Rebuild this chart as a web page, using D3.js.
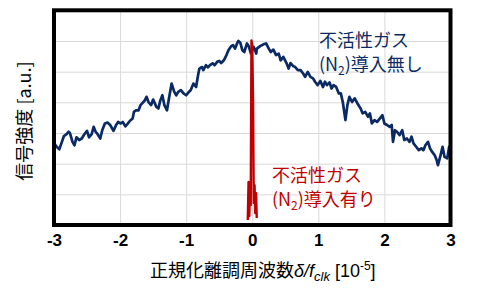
<!DOCTYPE html>
<html><head><meta charset="utf-8">
<script src="https://cdn.jsdelivr.net/npm/d3@7"></script>
<style>body{margin:0;background:#fff}svg{display:block}</style>
</head><body>
<svg id="c" width="477" height="288"></svg>
<script>
const xTicks=[-3,-2,-1,0,1,2,3];
const yGrid=[0,1,2,3,4,5,6,7];
const blueX=[-3.00,-2.96,-2.92,-2.88,-2.85,-2.81,-2.78,-2.76,-2.72,-2.69,-2.66,-2.62,-2.58,-2.54,-2.50,-2.47,-2.43,-2.40,-2.37,-2.34,-2.30,-2.27,-2.23,-2.19,-2.15,-2.10,-2.06,-2.03,-1.99,-1.96,-1.92,-1.89,-1.85,-1.81,-1.79,-1.76,-1.72,-1.69,-1.66,-1.63,-1.60,-1.57,-1.53,-1.50,-1.45,-1.42,-1.39,-1.36,-1.33,-1.29,-1.26,-1.22,-1.18,-1.15,-1.12,-1.08,-1.04,-1.00,-0.97,-0.93,-0.89,-0.85,-0.82,-0.80,-0.76,-0.74,-0.70,-0.67,-0.64,-0.60,-0.57,-0.53,-0.50,-0.47,-0.43,-0.39,-0.36,-0.32,-0.29,-0.26,-0.23,-0.21,-0.18,-0.15,-0.12,-0.08,-0.05,-0.02,0.02,0.06,0.07,0.12,0.17,0.21,0.25,0.28,0.32,0.36,0.40,0.43,0.47,0.52,0.55,0.58,0.62,0.65,0.69,0.73,0.77,0.80,0.84,0.88,0.92,0.95,0.99,1.03,1.07,1.10,1.13,1.17,1.20,1.23,1.27,1.31,1.34,1.37,1.41,1.44,1.47,1.51,1.55,1.59,1.64,1.67,1.71,1.75,1.78,1.81,1.85,1.89,1.93,1.97,2.00,2.04,2.08,2.11,2.13,2.16,2.19,2.23,2.27,2.30,2.34,2.38,2.41,2.44,2.48,2.52,2.56,2.59,2.62,2.66,2.69,2.72,2.76,2.79,2.81,2.85,2.88,2.91,2.95,2.98,3.00];
const blueY=[2.67,2.55,2.47,2.71,2.90,2.96,3.04,3.00,2.71,2.60,2.86,2.77,2.82,2.96,3.07,2.86,2.96,3.20,3.04,2.96,2.82,3.09,3.31,3.34,3.26,3.07,3.26,3.36,3.31,3.36,3.22,3.29,3.40,3.47,3.69,3.74,3.74,3.91,3.98,4.05,4.18,4.01,3.91,4.09,3.85,3.80,4.07,4.23,3.91,3.74,4.13,4.61,4.34,4.23,4.34,4.40,4.29,4.23,4.31,4.40,4.61,4.50,4.88,5.10,5.15,5.05,5.21,5.14,5.21,5.27,5.21,5.32,5.35,5.28,5.37,5.54,5.70,5.83,5.86,5.75,5.92,6.00,5.94,5.70,5.64,5.92,5.81,5.59,5.81,5.59,5.75,5.83,5.89,5.92,5.75,5.64,5.72,5.54,5.59,5.37,5.48,5.27,5.10,5.28,5.18,5.15,5.05,5.05,4.94,4.83,4.99,4.83,4.78,4.67,4.56,4.70,4.50,4.67,4.56,4.65,4.45,4.56,4.50,4.29,4.29,4.01,3.42,3.91,4.18,4.01,4.13,3.97,3.80,3.64,3.69,3.53,3.64,3.31,3.42,3.36,3.47,3.58,3.31,3.26,3.20,3.26,2.71,3.09,3.04,2.93,3.09,2.77,2.82,2.71,2.88,2.66,2.55,2.44,2.50,2.44,2.60,2.71,2.50,2.39,2.28,2.12,1.95,2.28,2.55,2.22,2.17,2.55,2.60];
const redX=[-0.068,-0.056,-0.045,-0.033,-0.023,-0.012,0.0,0.012,0.023,0.035,0.045,0.058,0.068];
const redY=[0.16,1.40,0.29,1.30,0.65,6.02,5.86,4.07,0.72,1.30,0.39,1.04,0.23];
const labelBlue=["不活性ガス","導入無し"];
const labelRed=["不活性ガス","導入有り"];

const svg=d3.select("#c");
const L=54,R=450.5,T=10.3,B=225;
const x=d3.scaleLinear().domain([-3,3]).range([L,R]);
const y=d3.scaleLinear().domain([0,7]).range([B,T]);

// grid
const gx=svg.append("g").attr("transform",`translate(0,${B})`)
  .call(d3.axisBottom(x).tickValues(xTicks).tickSize(-(B-T)).tickFormat(""));
const gy=svg.append("g").attr("transform",`translate(${L},0)`)
  .call(d3.axisLeft(y).tickValues(yGrid).tickSize(-(R-L)).tickFormat(""));
[gx,gy].forEach(g=>{g.select(".domain").remove();g.selectAll("line").attr("stroke","#d9d9d9").attr("stroke-width",1);});

// tick labels
const gl=svg.append("g").attr("transform",`translate(0,${B})`)
  .call(d3.axisBottom(x).tickValues(xTicks).tickSize(0).tickPadding(9).tickFormat(d=>String(d)));
gl.select(".domain").remove();
gl.selectAll("text").attr("font-family","Liberation Sans, Arial, sans-serif").attr("font-weight","bold").attr("font-size",17).attr("fill","#000");

const line=d3.line().x(d=>x(d[0])).y(d=>y(d[1]));
svg.append("path").datum(blueX.map((v,i)=>[v,blueY[i]]))
  .attr("d",line).attr("fill","none").attr("stroke","#0b2a63").attr("stroke-width",2.7).attr("stroke-linejoin","round");
svg.append("path").datum(redX.map((v,i)=>[v,redY[i]]))
  .attr("d",line).attr("fill","none").attr("stroke","#c00000").attr("stroke-width",2.4).attr("stroke-linejoin","round");

// frame
svg.append("rect").attr("x",L).attr("y",T).attr("width",R-L).attr("height",B-T)
  .attr("fill","none").attr("stroke","#000").attr("stroke-width",4);

const jp="Noto Sans CJK JP, sans-serif";
function label(xp,yp,lines,color){
  const g=svg.append("g").attr("fill",color).attr("font-family",jp).attr("font-size",18);
  g.append("text").attr("x",xp).attr("y",yp).text(lines[0]);
  const t=g.append("text").attr("x",xp).attr("y",yp+24);
  t.append("tspan").text("(N");
  t.append("tspan").attr("font-size",12).attr("dy",4).text("2");
  t.append("tspan").attr("dy",-4).text(")"+lines[1]);
}
label(319,47,labelBlue,"#0b2a63");
label(272,182,labelRed,"#c00000");

// x title
const xt=svg.append("text").attr("x",150).attr("y",277).attr("font-family",jp).attr("font-size",18).attr("fill","#000");
xt.append("tspan").text("正規化離調周波数");
xt.append("tspan").attr("font-style","italic").attr("font-family","Liberation Sans, Arial, sans-serif").text("δ/f");
xt.append("tspan").attr("font-style","italic").attr("font-family","Liberation Sans, Arial, sans-serif").attr("font-size",13).attr("dy",4).text("clk");
xt.append("tspan").attr("dy",-4).attr("font-family","Liberation Sans, Arial, sans-serif").text(" [10");
xt.append("tspan").attr("dy",-7).attr("font-size",12).attr("font-family","Liberation Sans, Arial, sans-serif").text("-5");
xt.append("tspan").attr("dy",7).attr("font-family","Liberation Sans, Arial, sans-serif").text("]");

// y title
svg.append("text").attr("transform","translate(31,121) rotate(-90)").attr("text-anchor","middle")
  .attr("font-family",jp).attr("font-size",18).attr("fill","#000").text("信号強度 [a.u.]");
</script>
</body></html>
